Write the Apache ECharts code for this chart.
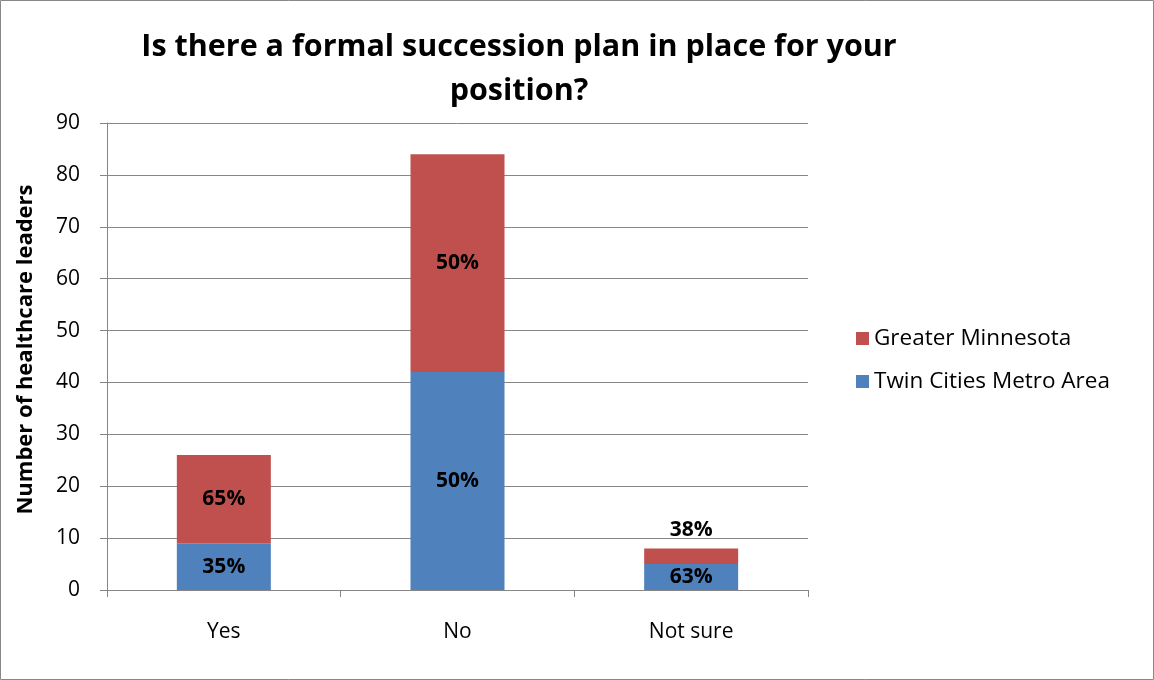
<!DOCTYPE html>
<html>
<head>
<meta charset="utf-8">
<script src="https://cdn.jsdelivr.net/npm/echarts@6/dist/echarts.min.js"></script>
<style>
html,body{margin:0;padding:0;background:#fff;}
#c{width:1154px;height:680px;}
</style>
</head>
<body>
<div id="c"></div>
<script>
const categories = ['Yes', 'No', 'Not sure'];
const twinCities = [9, 42, 5];
const greaterMN = [17, 42, 3];
const twinLabels = ['35%', '50%', '63%'];
const greaterLabels = ['65%', '50%', '38%'];
const yTicks = [0, 10, 20, 30, 40, 50, 60, 70, 80, 90];

const FONT = '"Open Sans", Lato, sans-serif';
const chart = echarts.init(document.getElementById('c'));

const labelBase = { show: true, color: '#000', fontFamily: FONT, fontWeight: 'bold', fontSize: 21 };

chart.setOption({
  animation: false,
  backgroundColor: '#fff',
  title: {
    text: 'Is there a formal succession plan in place for your\nposition?',
    left: 514, top: 20, textAlign: 'center',
    textStyle: { fontFamily: FONT, fontWeight: 'bold', fontSize: 30.5, color: '#000', lineHeight: 44 }
  },
  graphic: [{
    type: 'rect', shape: { x: 0.5, y: 0.5, width: 1153, height: 679 },
    style: { fill: 'none', stroke: '#888', lineWidth: 1 }, silent: true
  }],
  legend: {
    orient: 'vertical', left: 851, top: 322, itemWidth: 13, itemHeight: 13, itemGap: 20,
    icon: 'rect',
    data: ['Greater Minnesota', 'Twin Cities Metro Area'],
    textStyle: { fontFamily: FONT, fontSize: 22.5, color: '#000' }
  },
  grid: { left: 107, right: 346, top: 123, bottom: 90, containLabel: false },
  xAxis: {
    type: 'category', data: categories,
    axisLine: { lineStyle: { color: '#868686', width: 1 } },
    axisTick: { show: true, length: 7, lineStyle: { color: '#868686' } },
    axisLabel: { color: '#000', fontFamily: FONT, fontSize: 21, margin: 32 }
  },
  yAxis: {
    type: 'value', min: 0, max: 90, interval: 10,
    name: 'Number of healthcare leaders', nameLocation: 'middle', nameRotate: 90, nameGap: 70,
    nameTextStyle: { fontFamily: FONT, fontWeight: 'bold', fontSize: 22, color: '#000', padding: [0, 0, 0, 14] },
    axisLine: { show: true, lineStyle: { color: '#868686', width: 1 } },
    axisTick: { show: true, length: 7, lineStyle: { color: '#868686' } },
    splitLine: { lineStyle: { color: '#868686', width: 1 } },
    axisLabel: {
      color: '#000', fontFamily: FONT, fontSize: 21, margin: 27,
      formatter: v => yTicks.includes(v) ? String(v) : ''
    }
  },
  series: [
    {
      name: 'Twin Cities Metro Area', type: 'bar', stack: 's', barWidth: 94,
      itemStyle: { color: '#4F81BD' },
      data: twinCities.map((v, i) => ({ value: v, label: { ...labelBase, position: 'inside', formatter: twinLabels[i] } }))
    },
    {
      name: 'Greater Minnesota', type: 'bar', stack: 's', barWidth: 94,
      itemStyle: { color: '#C0504D' },
      data: greaterMN.map((v, i) => ({ value: v, label: { ...labelBase, position: v < 5 ? 'top' : 'inside', distance: 8, formatter: greaterLabels[i] } }))
    }
  ]
});
</script>
</body>
</html>
